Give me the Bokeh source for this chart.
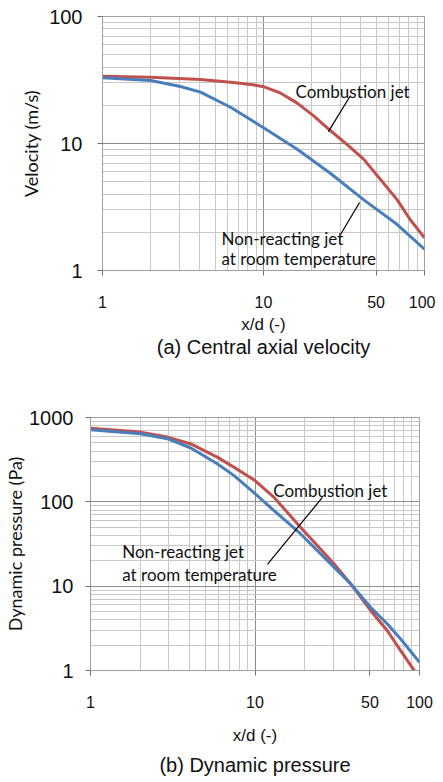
from bokeh.plotting import figure
from bokeh.models import FixedTicker, Title, NumeralTickFormatter
from bokeh.embed import file_html
from bokeh.resources import INLINE
from bokeh.core.properties import value

# ---- data: (a) central axial velocity ----
vel_comb_x = [1, 1.99, 4.06, 6.5, 8.3, 10, 12.8, 16.2, 20.5, 26.1, 33.1, 42, 53.3, 67.7, 81.8, 100]
vel_comb_y = [33.9, 33.3, 31.9, 30.2, 29.2, 28.0, 24.9, 20.8, 16.5, 12.6, 9.8, 7.5, 5.2, 3.6, 2.5, 1.81]
vel_cold_x = [1, 1.99, 3.05, 4.06, 6.24, 10, 16.2, 26.1, 42, 67.7, 100]
vel_cold_y = [32.9, 31.3, 28.1, 25.4, 19.3, 13.3, 9.0, 5.8, 3.6, 2.3, 1.47]

# ---- data: (b) dynamic pressure ----
dp_comb_x = [1, 2.01, 2.93, 4.05, 5.89, 7.43, 10, 13, 18.9, 30.2, 38.1, 50.4, 63.6, 76.6, 94.6]
dp_comb_y = [748, 671, 586, 489, 339, 258, 179, 114, 50, 18.4, 10.7, 5.15, 2.98, 1.73, 0.95]
dp_cold_x = [1, 2.01, 2.93, 4.05, 5.89, 7.43, 10, 13, 18.9, 30.2, 38.1, 50.4, 63.6, 76.6, 100]
dp_cold_y = [716, 643, 561, 438, 283, 206, 125, 79, 41.9, 16.8, 10.7, 5.63, 3.58, 2.38, 1.25]

x_ticks = [1, 10, 50, 100]
vel_y_ticks = [1, 10, 100]
dp_y_ticks = [1, 10, 100, 1000]

RED = "#c0504d"
BLUE = "#4a7ebb"
MINOR = "#c8c8c8"
MAJOR = "#8c8c8c"


def minors(lo_exp, hi_exp):
    out = []
    for e in range(lo_exp, hi_exp):
        for m in range(2, 10):
            out.append(m * 10 ** e)
    return out


def majors(lo_exp, hi_exp):
    return [10 ** e for e in range(lo_exp, hi_exp + 1)]


def make(y_end, y_ticks, y_exp, ylabel, caption, borders, size, ytick_standoff,
         ylabel_standoff, xlabel_standoff, cap_standoff):
    left, right, top, bottom = borders
    w, h = size
    p = figure(width=w, height=h, x_axis_type="log", y_axis_type="log",
               x_range=(1, 100), y_range=(1, y_end),
               output_backend="svg", toolbar_location=None,
               min_border_left=left, min_border_right=right,
               min_border_top=top, min_border_bottom=bottom)
    p.outline_line_color = "#a0a0a0"
    p.background_fill_color = "white"

    p.xaxis.ticker = FixedTicker(ticks=x_ticks, minor_ticks=[])
    p.yaxis.ticker = FixedTicker(ticks=y_ticks, minor_ticks=[])
    p.xaxis.formatter = NumeralTickFormatter(format="0")
    p.yaxis.formatter = NumeralTickFormatter(format="0")
    p.xgrid.ticker = FixedTicker(ticks=majors(0, 2), minor_ticks=minors(0, 2))
    p.ygrid.ticker = FixedTicker(ticks=majors(0, y_exp), minor_ticks=minors(0, y_exp))
    for g in (p.xgrid, p.ygrid):
        g.grid_line_color = MAJOR
        g.grid_line_width = 1
        g.minor_grid_line_color = MINOR
        g.minor_grid_line_width = 1

    for ax in (p.xaxis, p.yaxis):
        ax.axis_line_color = "#a0a0a0"
        ax.major_tick_line_color = "#707070"
        ax.major_tick_out = 5
        ax.major_tick_in = 0
        ax.minor_tick_line_color = None
        ax.major_label_text_font = "Liberation Sans"
        ax.major_label_text_color = "#111111"
        ax.axis_label_text_font_style = "normal"
        ax.axis_label_text_color = "#111111"

    p.yaxis.major_label_text_font_size = "20px"
    p.yaxis.major_label_standoff = ytick_standoff
    p.yaxis.axis_label = ylabel
    p.yaxis.axis_label_text_font = "Lato"
    p.yaxis.axis_label_text_font_size = "18px"
    p.yaxis.axis_label_standoff = ylabel_standoff

    p.xaxis.major_label_text_font_size = "16px"
    p.xaxis.major_label_standoff = 20
    p.xaxis.axis_label = "x/d (-)"
    p.xaxis.axis_label_text_font = "Liberation Sans"
    p.xaxis.axis_label_text_font_size = "17px"
    p.xaxis.axis_label_standoff = xlabel_standoff

    cap = Title(text=caption, align="center", text_font="Liberation Sans",
                text_font_size="20px", text_font_style="normal", text_color="#111111",
                standoff=cap_standoff)
    p.add_layout(cap, "below")
    return p


# ---------- (a) ----------
p1 = make(100, vel_y_ticks, 2, "Velocity (m/s)", "(a) Central axial velocity",
          (102, 11, 16, 88), (435, 358), 15, 4, 4, -6)
p1.line(vel_comb_x, vel_comb_y, line_color=RED, line_width=3)
p1.line(vel_cold_x, vel_cold_y, line_color=BLUE, line_width=3)

# annotation anchors (a)
a_comb_text = (15.8, 25.9)
a_cold_text1 = (5.48, 1.79)
a_cold_text2 = (5.48, 1.24)
a_comb_lead = (34.7, 23.9, 25.3, 12.4)
a_cold_lead = (39.5, 3.43, 30.1, 1.92)

for (tx, ty), s in ((a_comb_text, "Combustion jet"), (a_cold_text1, "Non-reacting jet"),
                    (a_cold_text2, "at room temperature")):
    p1.text(x=[tx], y=[ty], text=[s], text_font=value("Lato"), text_font_size="17px",
            text_baseline="middle", text_align="left", text_color="#111111")
for (x0, y0, x1, y1) in (a_comb_lead, a_cold_lead):
    p1.segment(x0=[x0], y0=[y0], x1=[x1], y1=[y1], line_color="black", line_width=1.2)

# ---------- (b) ----------
p2 = make(1000, dp_y_ticks, 3, "Dynamic pressure (Pa)", "(b) Dynamic pressure",
          (90, 16, 59, 110), (435, 422), 12, 0, 15, 9)
p2.line(dp_comb_x, dp_comb_y, line_color=RED, line_width=3)
p2.line(dp_cold_x, dp_cold_y, line_color=BLUE, line_width=3)

b_comb_text = (12.9, 136)
b_cold_text1 = (1.56, 25.5)
b_cold_text2 = (1.56, 13.9)
b_lead = (25.7, 113, 11.9, 18.1)

for (tx, ty), s in ((b_comb_text, "Combustion jet"), (b_cold_text1, "Non-reacting jet"),
                    (b_cold_text2, "at room temperature")):
    p2.text(x=[tx], y=[ty], text=[s], text_font=value("Lato"), text_font_size="17px",
            text_baseline="middle", text_align="left", text_color="#111111")
x0, y0, x1, y1 = b_lead
p2.segment(x0=[x0], y0=[y0], x1=[x1], y1=[y1], line_color="black", line_width=1.2)

open("out.html", "w").write(file_html([p1, p2], INLINE))
